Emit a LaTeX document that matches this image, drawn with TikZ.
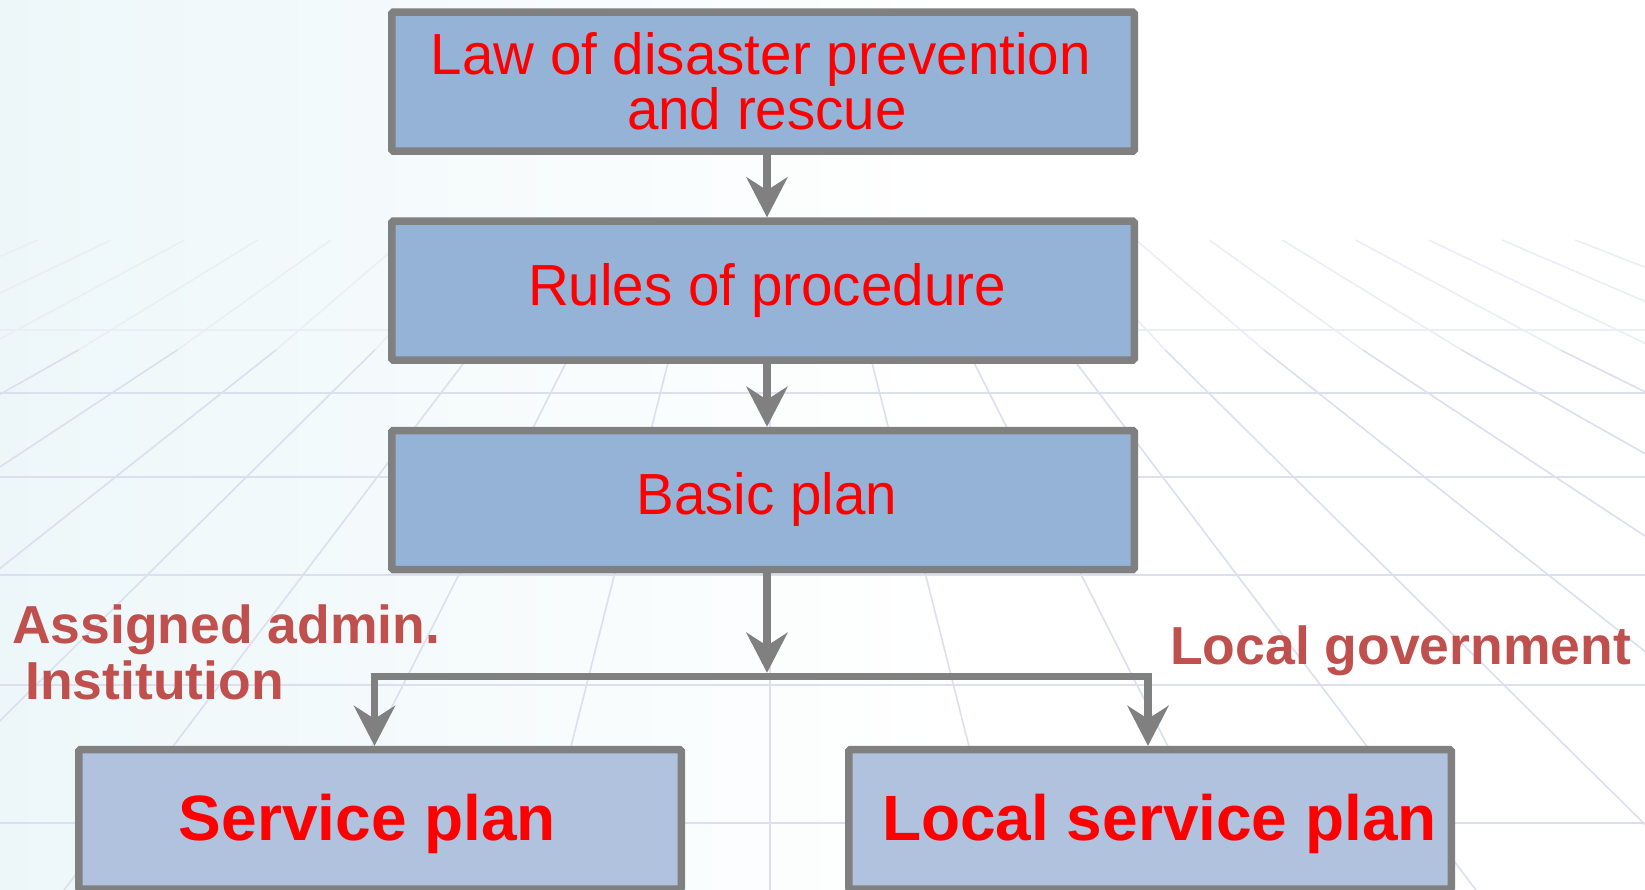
\documentclass[tikz,border=0pt]{standalone}
\usepackage{fontspec}
\setmainfont{Liberation Sans}
\newfontfamily\narrowfont[FakeStretch=0.975]{Liberation Sans}
\usetikzlibrary{arrows.meta,calc}
\definecolor{boxfill}{HTML}{95B3D7}
\definecolor{boxfilllight}{HTML}{B0C2DD}
\definecolor{boxline}{HTML}{808080}
\definecolor{labelred}{HTML}{C0504D}
\definecolor{textred}{HTML}{FF0000}
\definecolor{gridline}{HTML}{DCDFEE}
\definecolor{gridfaint}{HTML}{ECEEF6}
\definecolor{bgcyan}{HTML}{EDF7F9}
\begin{document}
\begin{tikzpicture}[x=1pt,y=-1pt,
  topbox/.style={draw=boxline, line width=7.5pt, fill=boxfill, rounded corners=1.5pt,
    minimum width=742.5pt, minimum height=139pt, inner sep=0pt, text=textred,
    font=\narrowfont\fontsize{58}{46}\selectfont, align=center},
  botbox/.style={draw=boxline, line width=7.5pt, fill=boxfilllight, rounded corners=1.5pt,
    minimum width=602.5pt, minimum height=139.5pt, inner sep=0pt, text=textred,
    font=\bfseries\fontsize{64}{64}\selectfont, text height=47pt, text depth=5.8pt},
  lbl/.style={text=labelred, font=\bfseries\fontsize{53.5}{56}\selectfont, inner sep=0pt, anchor=base west},
  conn/.style={draw=boxline, line width=7.5pt, -{Stealth[length=40pt,width=41pt,inset=13pt]}},
  gridln/.style={draw=gridline, line width=1.6pt},
  gridup/.style={draw=gridfaint, line width=1.6pt}]
\useasboundingbox (0,0) rectangle (1645,890);
\clip (0,0) rectangle (1645,890);
% background
\fill[white] (0,0) rectangle (1645,890);
\shade[left color=bgcyan, right color=white] (0,0) rectangle (950,890);
\foreach \yy in {393,477,575,685,823}
  \draw[gridln] (0,\yy) -- (1645,\yy);
\draw[gridup] (0,330) -- (1645,330);
\foreach \k in {-12,...,12}{
  \draw[gridup] ({770+\k*73.2},240) -- ({770+\k*98.8},350);
  \draw[gridln] ({770+\k*98.8},350) -- ({770+\k*235.3},890);
}
% boxes
\node[topbox] (law) at (763,81.7) {\hspace*{-4.6pt}Law of disaster prevention\\\hspace*{8pt}and rescue};
\node[topbox, text height=42pt, text depth=12pt] (rules) at (763,290.6) {\hspace*{8pt}Rules of procedure};
\node[topbox, text height=42pt, text depth=13.4pt] (basic) at (763,500) {\hspace*{8pt}Basic plan};
\node[botbox] (svc) at (380,819.4) {\hspace*{-25pt}Service plan};
\node[botbox] (lsp) at (1150,819.4) {\hspace*{19pt}Local service plan};
% labels
\node[lbl] (lblA) at (12,643) {Assigned admin.};
\node[lbl] (lblB) at (25,699) {Institution};
\node[lbl] (lblC) at (1170,664.3) {Local government};
% connectors
\coordinate (split) at (767,676.5);
\draw[conn] ([xshift=4pt]law.south) -- ([xshift=4pt]rules.north);
\draw[conn] ([xshift=4pt]rules.south) -- ([xshift=4pt]basic.north);
\draw[conn] ([xshift=4pt]basic.south) -- ([yshift=3.75pt]split);
\draw[conn] (split) -| ([xshift=-5.5pt]svc.north);
\draw[conn] (split) -| ([xshift=-2pt]lsp.north);
\end{tikzpicture}
\end{document}
